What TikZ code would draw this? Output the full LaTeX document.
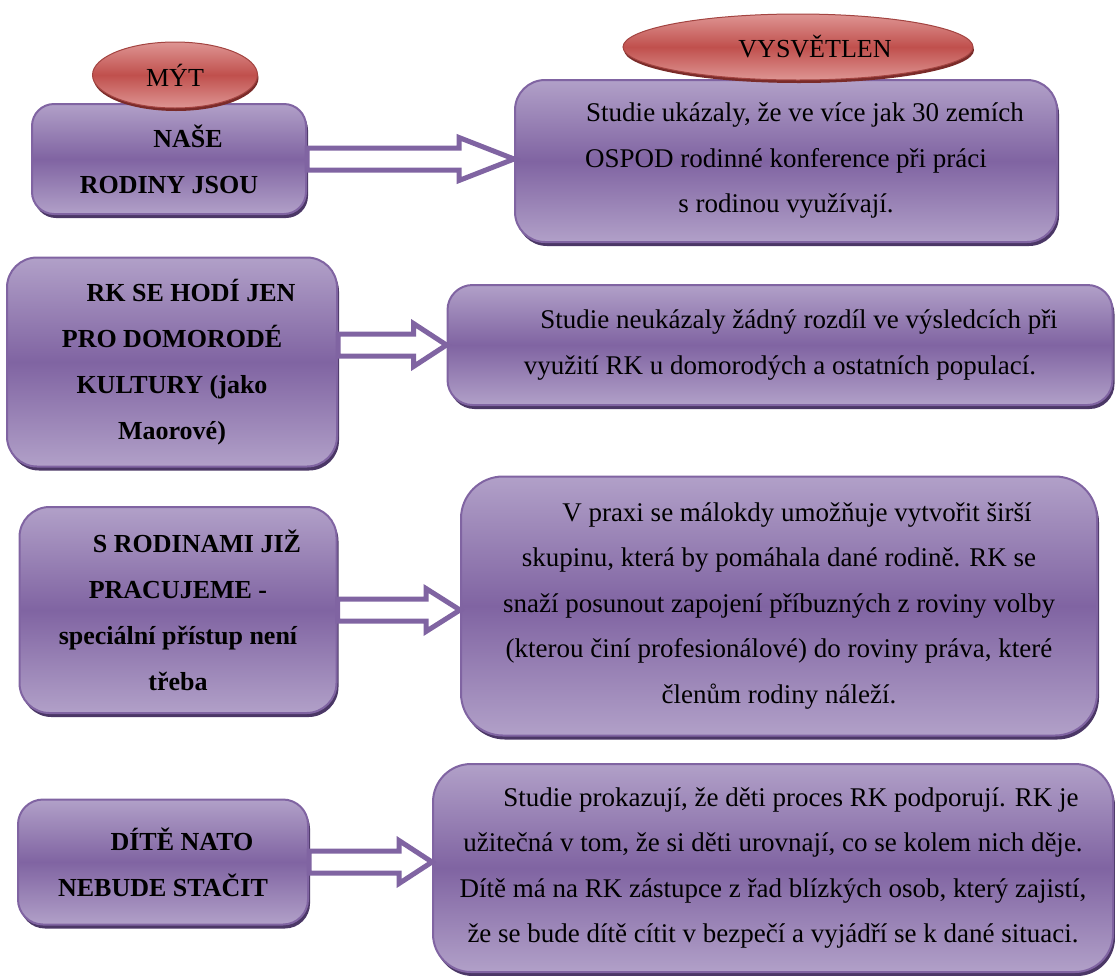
\documentclass[tikz,border=0pt]{standalone}
\usepackage{fontspec}
\setmainfont{LiberationSerif}[Extension=.ttf, UprightFont=*-Regular, BoldFont=*-Bold]
\usetikzlibrary{shapes.geometric,shadows,calc}
\definecolor{lila}{HTML}{8064A2}
\definecolor{lilasvetla}{HTML}{B1A0C8}
\definecolor{lilastin}{HTML}{4B3766}
\definecolor{cervena}{HTML}{C0504D}
\definecolor{cervenasvetla}{HTML}{DE9593}
\definecolor{cervenastin}{HTML}{7A2B29}
\newcommand\sipka[4]{%
  \filldraw[blokova] ($(#1.east |- #3)+(0,-11)$) -- ($(#2.west |- #3)+(-#4,-11)$)
    -- ($(#2.west |- #3)+(-#4,-21.5)$) -- (#2.west |- #3)
    -- ($(#2.west |- #3)+(-#4,21.5)$) -- ($(#2.west |- #3)+(-#4,11)$)
    -- ($(#1.east |- #3)+(0,11)$) -- cycle;}
\begin{document}
\begin{tikzpicture}
[
    x=1pt, y=-1pt,
    ramecek/.style={draw=lila, line width=2pt, top color=lilasvetla,
        bottom color=lilasvetla, middle color=lila, align=center, inner sep=0pt,
        drop shadow={shadow xshift=2pt, shadow yshift=-4pt, fill=lilastin, opacity=1}},
    mytus/.style={ramecek, font=\fontsize{26}{46}\selectfont\bfseries},
    vysvetleni/.style={ramecek, font=\fontsize{27}{45.5}\selectfont},
    nadpis/.style={ellipse, draw=cervena!85!black, line width=1pt, top color=cervenasvetla,
        bottom color=cervenasvetla, middle color=cervena, inner sep=0pt,
        font=\fontsize{26}{30}\selectfont,
        drop shadow={shadow xshift=1pt, shadow yshift=-3pt, fill=cervenastin, opacity=1}},
    blokova/.style={draw=lila, line width=5pt, fill=white, line join=miter},
]
\useasboundingbox (0,0) rectangle (1115,975);

\node[mytus, minimum width=274pt, minimum height=110pt, rounded corners=22pt] (m1) at (169,159)
    {\hspace*{38pt}NAŠE\\RODINY JSOU};
\node[vysvetleni, minimum width=542pt, minimum height=162pt, rounded corners=30pt] (v1) at (786,161)
    {\hspace*{38pt}Studie ukázaly, že ve více jak 30 zemích\\OSPOD rodinné konference při práci\\s rodinou využívají.};
\node[mytus, minimum width=330pt, minimum height=209pt, rounded corners=30pt] (m2) at (172,362)
    {\hspace*{38pt}RK SE HODÍ JEN\\PRO DOMORODÉ\\KULTURY (jako\\Maorové)};
\node[vysvetleni, minimum width=665pt, minimum height=120pt, rounded corners=25pt] (v2) at (780,345)
    {\hspace*{38pt}Studie neukázaly žádný rozdíl ve výsledcích při\\využití RK u domorodých a ostatních populací.};
\node[mytus, minimum width=317pt, minimum height=206pt, rounded corners=30pt] (m3) at (178,610)
    {\hspace*{38pt}S RODINAMI JIŽ\\PRACUJEME -\\speciální přístup není\\třeba};
\node[vysvetleni, minimum width=636pt, minimum height=259pt, rounded corners=42pt] (v3) at (779,606)
    {\hspace*{36pt}V praxi se málokdy umožňuje vytvořit širší\\skupinu, která by pomáhala dané rodině. RK se\\snaží posunout zapojení příbuzných z roviny volby\\(kterou činí profesionálové) do roviny práva, které\\členům rodiny náleží.};
\node[mytus, minimum width=290pt, minimum height=125pt, rounded corners=25pt] (m4) at (163,862)
    {\hspace*{38pt}DÍTĚ NATO\\NEBUDE STAČIT};
\node[vysvetleni, minimum width=680pt, minimum height=208pt, rounded corners=38pt] (v4) at (773,868)
    {\hspace*{36pt}Studie prokazují, že děti proces RK podporují. RK je\\užitečná v tom, že si děti urovnají, co se kolem nich děje.\\Dítě má na RK zástupce z řad blízkých osob, který zajistí,\\že se bude dítě cítit v bezpečí a vyjádří se k dané situaci.};

\node[nadpis, minimum width=165pt, minimum height=66pt] (n1) at (175,75) {MÝT};
\node[nadpis, minimum width=350pt, minimum height=66pt] (n2) at (798,47) {\hspace*{34pt}VYSVĚTLEN};

\sipka{m1}{v1}{m1}{55}
\sipka{m2}{v2}{v2}{33}
\sipka{m3}{v3}{m3}{34}
\sipka{m4}{v4}{m4}{33}
\end{tikzpicture}
\end{document}
